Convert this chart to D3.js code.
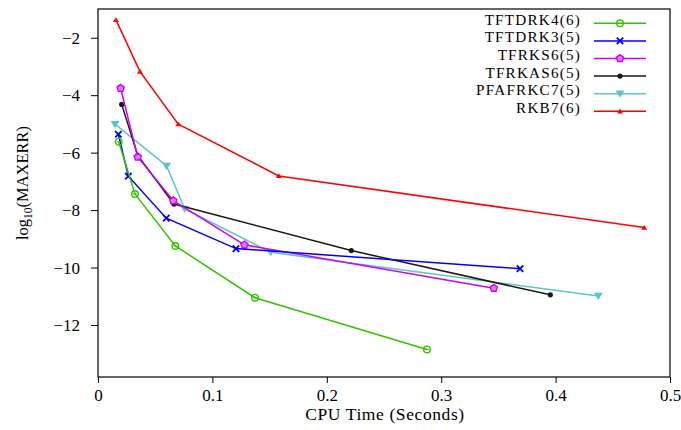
<!DOCTYPE html>
<html>
<head>
<meta charset="utf-8">
<script src="https://cdn.jsdelivr.net/npm/d3@7"></script>
<style>
  body { margin: 0; background: #fff; }
  svg { display: block; }
  text { font-family: "Liberation Serif", "Times New Roman", serif; fill: #000; }
</style>
</head>
<body>
<svg id="chart" width="681" height="430"></svg>
<script>
// series names, in legend order
const names = ["TFTDRK4(6)", "TFTDRK3(5)", "TFRKS6(5)", "TFRKAS6(5)", "PFAFRKC7(5)", "RKB7(6)"];
const colors = ["#33c400", "#0000ff", "#cc00ff", "#1a1a1a", "#5ac8c0", "#ff0000"];
const markers = ["circle", "cross", "pentagon", "dot", "triDown", "triUp"];

// CPU time (s) and log10(MAXERR)
const tftdrk4X = [0.0181, 0.0323, 0.0676, 0.1372, 0.2876];
const tftdrk4Y = [-5.62, -7.44, -9.25, -11.05, -12.85];
const tftdrk3X = [0.0178, 0.0265, 0.0597, 0.1206, 0.3689];
const tftdrk3Y = [-5.36, -6.82, -8.28, -9.34, -10.04];
const tfrks6X = [0.0198, 0.0347, 0.0658, 0.128, 0.346];
const tfrks6Y = [-3.76, -6.15, -7.67, -9.21, -10.72];
const tfrkas6X = [0.0207, 0.0347, 0.0664, 0.2214, 0.3954];
const tfrkas6Y = [-4.32, -6.10, -7.79, -9.41, -10.95];
const pfafrkc7X = [0.0149, 0.060, 0.0758, 0.151, 0.4373];
const pfafrkc7Y = [-5.01, -6.46, -7.96, -9.47, -10.99];
const rkb7X = [0.0157, 0.0367, 0.0702, 0.158, 0.4775];
const rkb7Y = [-1.38, -3.18, -5.01, -6.81, -8.61];

const xTicks = [0, 0.1, 0.2, 0.3, 0.4, 0.5];
const yTicks = [-12, -10, -8, -6, -4, -2];

const allX = [tftdrk4X, tftdrk3X, tfrks6X, tfrkas6X, pfafrkc7X, rkb7X];
const allY = [tftdrk4Y, tftdrk3Y, tfrks6Y, tfrkas6Y, pfafrkc7Y, rkb7Y];

const series = names.map((name, i) => ({
  name: name,
  color: colors[i],
  marker: markers[i],
  points: allX[i].map((x, j) => ({ x: x, y: allY[i][j] }))
}));

const svg = d3.select("#chart");
const plotLeft = 98, plotRight = 670, plotTop = 9, plotBottom = 377;
const serif = "Liberation Serif";

const x = d3.scaleLinear().domain([0, 0.5]).range([plotLeft, plotRight]);
const y = d3.scaleLinear().domain([-13.81, -1.0]).range([plotBottom, plotTop]);

// axes
const fmtX = d => d === 0 ? "0" : d3.format(".1f")(d);
svg.append("g")
  .attr("transform", `translate(0,${plotBottom})`)
  .call(d3.axisBottom(x).tickValues(xTicks).tickFormat(fmtX).tickSize(6).tickPadding(6))
  .call(g => g.select(".domain").remove())
  .call(g => g.selectAll("line").attr("stroke", "#000").attr("stroke-width", 1))
  .call(g => g.selectAll("text").attr("font-size", 17).attr("font-family", serif));

svg.append("g")
  .attr("transform", `translate(${plotLeft},0)`)
  .call(d3.axisLeft(y).tickValues(yTicks).tickSize(7).tickPadding(11))
  .call(g => g.select(".domain").remove())
  .call(g => g.selectAll("line").attr("stroke", "#000").attr("stroke-width", 1))
  .call(g => g.selectAll("text").attr("font-size", 17).attr("font-family", serif));

// frame
svg.append("rect")
  .attr("x", plotLeft).attr("y", plotTop)
  .attr("width", plotRight - plotLeft).attr("height", plotBottom - plotTop)
  .attr("fill", "none").attr("stroke", "#000").attr("stroke-width", 1.2);

// axis titles
svg.append("text")
  .attr("x", (plotLeft + plotRight) / 2 + 1).attr("y", 420)
  .attr("text-anchor", "middle").attr("font-size", 17.5)
  .attr("letter-spacing", 0.6)
  .text("CPU Time (Seconds)");

const yl = svg.append("text")
  .attr("transform", `translate(28,183) rotate(-90)`)
  .attr("text-anchor", "middle").attr("font-size", 16.5);
yl.append("tspan").text("log");
yl.append("tspan").attr("font-size", 11.5).attr("dy", 4).text("10");
yl.append("tspan").attr("dy", -4).text("(MAXERR)");

// marker drawing
function drawMarker(g, type, color, cx, cy) {
  if (type === "circle") {
    g.append("circle").attr("cx", cx).attr("cy", cy).attr("r", 3.3)
      .attr("fill", "none").attr("stroke", color).attr("stroke-width", 1.4);
    g.append("line").attr("x1", cx - 2).attr("x2", cx + 2).attr("y1", cy).attr("y2", cy)
      .attr("stroke", color).attr("stroke-width", 1);
  } else if (type === "cross") {
    const s = 3.2;
    g.append("path")
      .attr("d", `M${cx - s},${cy - s}L${cx + s},${cy + s}M${cx - s},${cy + s}L${cx + s},${cy - s}`)
      .attr("stroke", color).attr("stroke-width", 1.8);
  } else if (type === "pentagon") {
    const pts = d3.range(5).map(k => {
      const a = -Math.PI / 2 + k * 2 * Math.PI / 5;
      return [cx + 3.8 * Math.cos(a), cy + 3.8 * Math.sin(a)];
    });
    g.append("polygon").attr("points", pts.map(p => p.join(",")).join(" "))
      .attr("fill", "#e07aff").attr("stroke", color).attr("stroke-width", 1.4);
  } else if (type === "dot") {
    g.append("circle").attr("cx", cx).attr("cy", cy).attr("r", 2.6).attr("fill", color);
  } else if (type === "triDown") {
    const s = 4.5;
    g.append("path")
      .attr("d", `M${cx - s},${cy - s * 0.7}L${cx + s},${cy - s * 0.7}L${cx},${cy + s * 0.9}Z`)
      .attr("fill", color);
  } else if (type === "triUp") {
    const s = 3;
    g.append("path")
      .attr("d", `M${cx - s},${cy + s * 0.7}L${cx + s},${cy + s * 0.7}L${cx},${cy - s * 0.9}Z`)
      .attr("fill", color);
  }
}

const line = d3.line().x(d => x(d.x)).y(d => y(d.y));

// lines drawn last-to-first so the green series sits on top
series.slice().reverse().forEach(s => {
  const g = svg.append("g");
  g.append("path").datum(s.points)
    .attr("d", line)
    .attr("fill", "none").attr("stroke", s.color).attr("stroke-width", 1.5);
  s.points.forEach(p => drawMarker(g, s.marker, s.color, x(p.x), y(p.y)));
});

// legend
const legend = svg.append("g");
series.forEach((s, i) => {
  const ly = 23.3 + i * 17.6;
  legend.append("text")
    .attr("x", 581).attr("y", ly + 1.5)
    .attr("text-anchor", "end").attr("font-size", 15.2)
    .attr("letter-spacing", 1.2)
    .text(s.name);
  legend.append("line")
    .attr("x1", 594).attr("x2", 646).attr("y1", ly).attr("y2", ly)
    .attr("stroke", s.color).attr("stroke-width", 1.5);
  drawMarker(legend, s.marker, s.color, 620, ly);
});
</script>
</body>
</html>
